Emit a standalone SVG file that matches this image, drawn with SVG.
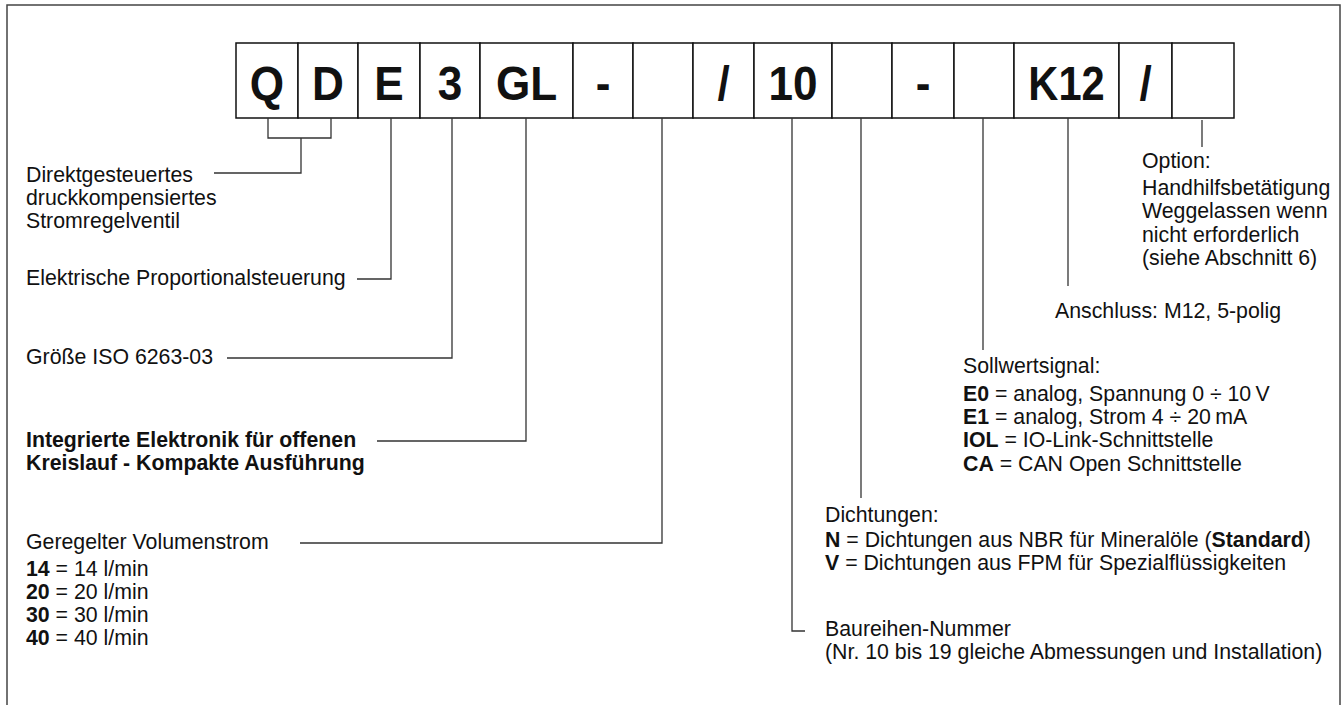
<svg xmlns="http://www.w3.org/2000/svg" width="1344" height="705" viewBox="0 0 1344 705">
<style>
text{font-family:"Liberation Sans",Arial,Helvetica,sans-serif;fill:#111}
.lbl{font-size:21.3px}
.b{font-weight:bold}
.code{font-size:49px;font-weight:bold;text-anchor:middle}
.box{fill:#fff;stroke:#111;stroke-width:1.5}
.con{fill:none;stroke:#333;stroke-width:1.3}
</style>
<rect x="7" y="5" width="1333" height="710" fill="#fff" stroke="#444" stroke-width="1.5"/>
<g id="code-row">
<g id="box-Q"><rect class="box" x="236" y="43" width="62" height="75"/><text class="code" transform="translate(267 100) scale(0.9 1)">Q</text></g>
<g id="box-D"><rect class="box" x="298" y="43" width="60" height="75"/><text class="code" transform="translate(328 100) scale(0.9 1)">D</text></g>
<g id="box-E"><rect class="box" x="358" y="43" width="62" height="75"/><text class="code" transform="translate(389 100) scale(0.9 1)">E</text></g>
<g id="box-3"><rect class="box" x="420" y="43" width="60" height="75"/><text class="code" transform="translate(450 100) scale(0.9 1)">3</text></g>
<g id="box-GL"><rect class="box" x="480" y="43" width="93" height="75"/><text class="code" transform="translate(526.5 100) scale(0.9 1)">GL</text></g>
<g id="box-dash1"><rect class="box" x="573" y="43" width="60" height="75"/><text class="code" transform="translate(603 100) scale(0.9 1)">-</text></g>
<g id="box-flow"><rect class="box" x="633" y="43" width="60" height="75"/></g>
<g id="box-slash1"><rect class="box" x="693" y="43" width="61" height="75"/><text class="code" transform="translate(723.5 100) scale(0.9 1)">/</text></g>
<g id="box-10"><rect class="box" x="754" y="43" width="78" height="75"/><text class="code" transform="translate(793 100) scale(0.9 1)">10</text></g>
<g id="box-seal"><rect class="box" x="832" y="43" width="60" height="75"/></g>
<g id="box-dash2"><rect class="box" x="892" y="43" width="62" height="75"/><text class="code" transform="translate(923 100) scale(0.9 1)">-</text></g>
<g id="box-signal"><rect class="box" x="954" y="43" width="60" height="75"/></g>
<g id="box-K12"><rect class="box" x="1014" y="43" width="105" height="75"/><text class="code" transform="translate(1066.5 100) scale(0.85 1)">K12</text></g>
<g id="box-slash2"><rect class="box" x="1119" y="43" width="53" height="75"/><text class="code" transform="translate(1145.5 100) scale(0.9 1)">/</text></g>
<g id="box-option"><rect class="box" x="1172" y="43" width="62" height="75"/></g>
</g>
<g id="connectors">
<path class="con" d="M268 118V138H331V118M301 138V173H214"/>
<path class="con" d="M391 118V279H357"/>
<path class="con" d="M452 118V358H227"/>
<path class="con" d="M526 118V441H377"/>
<path class="con" d="M662 118V543H300"/>
<path class="con" d="M792 118V631H805"/>
<path class="con" d="M861 118V498"/>
<path class="con" d="M983 118V350"/>
<path class="con" d="M1068 118V286"/>
<path class="con" d="M1202 120V147"/>
</g>
<g id="label-QD"><text class="lbl" x="26" y="182">Direktgesteuertes</text><text class="lbl" x="26" y="205">druckkompensiertes</text><text class="lbl" x="26" y="228">Stromregelventil</text></g>
<g id="label-E"><text class="lbl" x="26" y="285">Elektrische Proportionalsteuerung</text></g>
<g id="label-3"><text class="lbl" x="26" y="364">Größe ISO 6263-03</text></g>
<g id="label-GL"><text class="lbl b" x="26" y="447">Integrierte Elektronik für offenen</text><text class="lbl b" x="26" y="470">Kreislauf - Kompakte Ausführung</text></g>
<g id="label-flow"><text class="lbl" x="26" y="549">Geregelter Volumenstrom</text>
<text class="lbl" x="26" y="576"><tspan class="b">14</tspan> = 14 l/min</text>
<text class="lbl" x="26" y="599"><tspan class="b">20</tspan> = 20 l/min</text>
<text class="lbl" x="26" y="622"><tspan class="b">30</tspan> = 30 l/min</text>
<text class="lbl" x="26" y="645"><tspan class="b">40</tspan> = 40 l/min</text></g>
<g id="label-series"><text class="lbl" x="825" y="636">Baureihen-Nummer</text><text class="lbl" x="825" y="659">(Nr. 10 bis 19 gleiche Abmessungen und Installation)</text></g>
<g id="label-seal"><text class="lbl" x="825" y="522">Dichtungen:</text>
<text class="lbl" x="825" y="547"><tspan class="b">N</tspan> = Dichtungen aus NBR für Mineralöle (<tspan class="b">Standard</tspan>)</text>
<text class="lbl" x="825" y="570"><tspan class="b">V</tspan> = Dichtungen aus FPM für Spezialflüssigkeiten</text></g>
<g id="label-signal"><text class="lbl" x="963" y="373">Sollwertsignal:</text>
<text class="lbl" x="963" y="401"><tspan class="b">E0</tspan> = analog, Spannung 0 ÷ 10&#8201;V</text>
<text class="lbl" x="963" y="424"><tspan class="b">E1</tspan> = analog, Strom 4 ÷ 20&#8201;mA</text>
<text class="lbl" x="963" y="447"><tspan class="b">IOL</tspan> = IO-Link-Schnittstelle</text>
<text class="lbl" x="963" y="471"><tspan class="b">CA</tspan> = CAN Open Schnittstelle</text></g>
<g id="label-K12"><text class="lbl" x="1055" y="318">Anschluss: M12, 5-polig</text></g>
<g id="label-option"><text class="lbl" x="1142" y="168">Option:</text>
<text class="lbl" x="1142" y="195">Handhilfsbetätigung</text>
<text class="lbl" x="1142" y="218">Weggelassen wenn</text>
<text class="lbl" x="1142" y="242">nicht erforderlich</text>
<text class="lbl" x="1142" y="265">(siehe Abschnitt 6)</text></g>
</svg>
